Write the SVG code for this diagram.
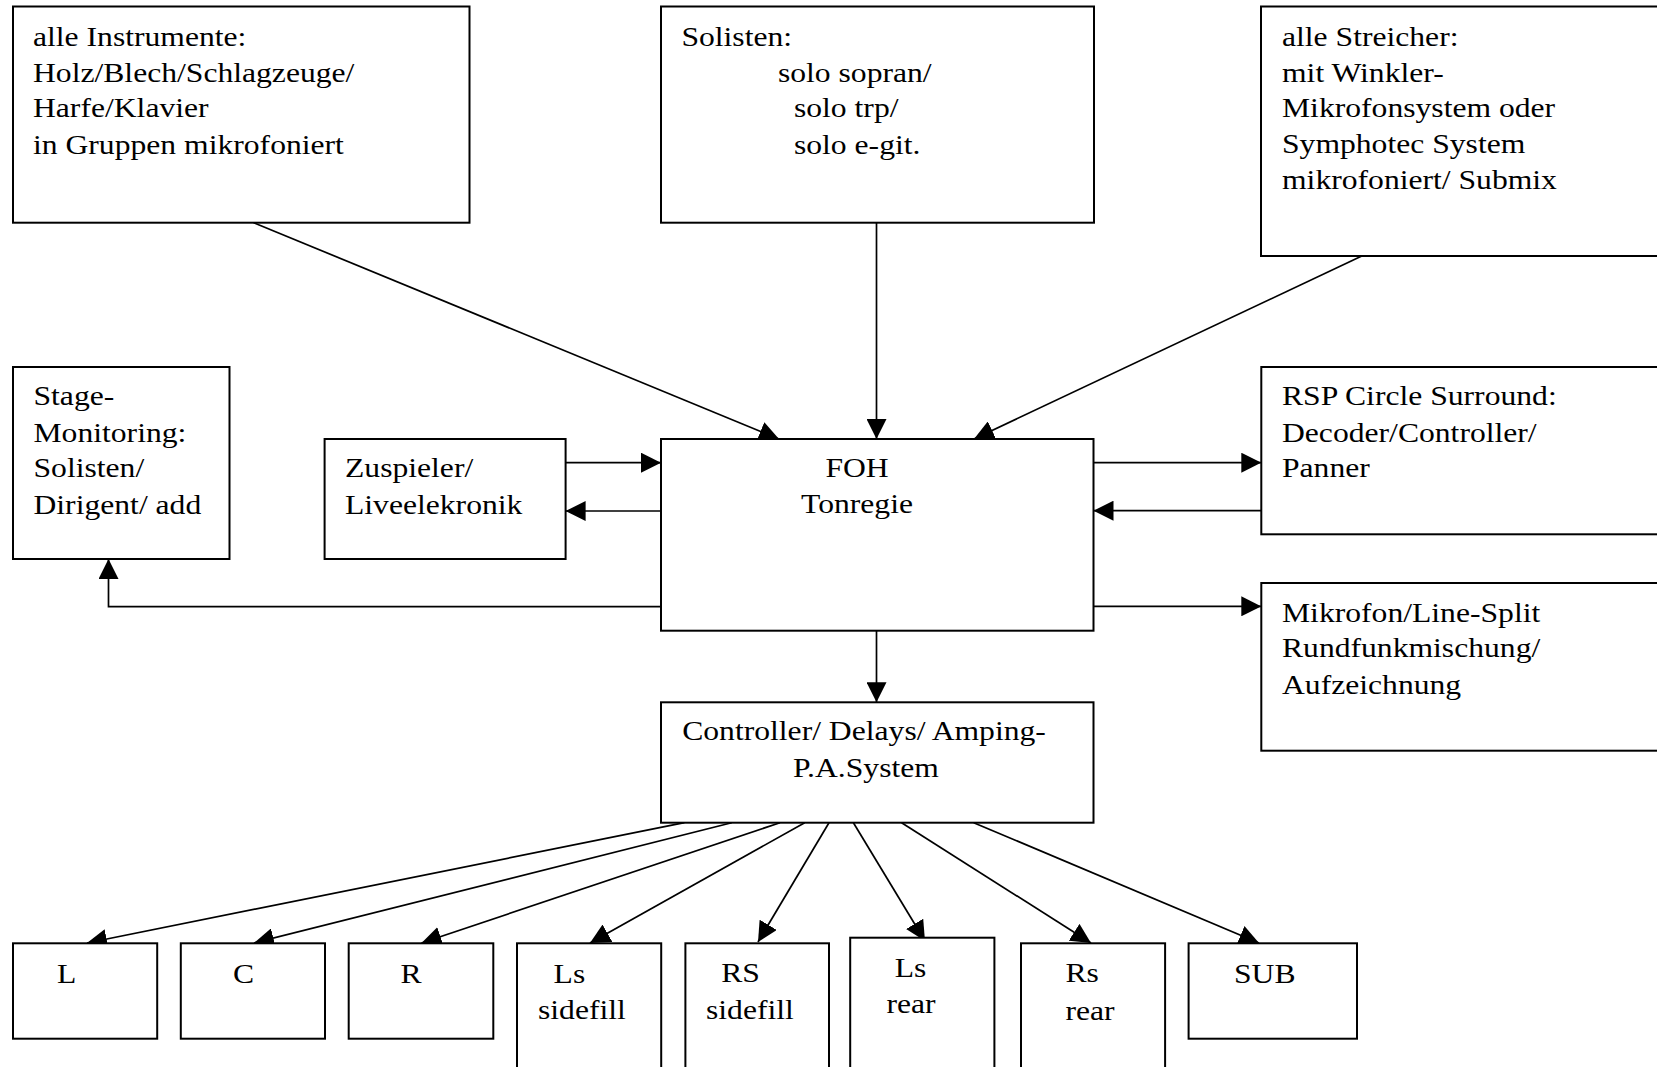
<svg xmlns="http://www.w3.org/2000/svg" width="1657" height="1067" viewBox="0 0 1657 1067">
<style>
.box{fill:#fff;stroke:#000;stroke-width:2}
.t{font-family:"Liberation Serif","Times New Roman",serif;font-size:28px;fill:#000}
.c{text-anchor:middle}
.ln{fill:none;stroke:#000;stroke-width:1.7;marker-end:url(#ah)}
</style>
<defs>
<marker id="ah" markerUnits="userSpaceOnUse" markerWidth="20" markerHeight="20" refX="20" refY="10" orient="auto" viewBox="0 0 20 20">
<path d="M0,0 L20,10 L0,20 Z" fill="#000"/>
</marker>
</defs>
<rect width="1657" height="1067" fill="#fff"/>

<g id="connectors">
<line class="ln" x1="253.6" y1="222.7" x2="779" y2="439"/>
<line class="ln" x1="876.5" y1="222.7" x2="876.5" y2="439"/>
<line class="ln" x1="1361.8" y1="256" x2="974" y2="439"/>
<line class="ln" x1="565.6" y1="462.7" x2="661" y2="462.7"/>
<line class="ln" x1="661" y1="511" x2="565.6" y2="511"/>
<polyline class="ln" points="661,606.7 108.5,606.7 108.5,559"/>
<line class="ln" x1="1093.5" y1="462.7" x2="1261.3" y2="462.7"/>
<line class="ln" x1="1261.3" y1="510.7" x2="1093.5" y2="510.7"/>
<line class="ln" x1="1093.5" y1="606.3" x2="1261.3" y2="606.3"/>
<line class="ln" x1="876.5" y1="630.7" x2="876.5" y2="702.3"/>
<line class="ln" x1="684.4" y1="822.7" x2="87" y2="943"/>
<line class="ln" x1="731.7" y1="822.7" x2="254" y2="943"/>
<line class="ln" x1="780" y1="822.7" x2="421.5" y2="943"/>
<line class="ln" x1="804.7" y1="822.7" x2="590" y2="943"/>
<line class="ln" x1="829" y1="822.7" x2="758" y2="942"/>
<line class="ln" x1="853.4" y1="822.7" x2="925" y2="941"/>
<line class="ln" x1="901.6" y1="822.7" x2="1091" y2="943"/>
<line class="ln" x1="973.7" y1="822.7" x2="1259" y2="943"/>
</g>

<g id="instrumente">
<rect class="box" x="13" y="6.5" width="456.5" height="216.2"/>
<text class="t" transform="translate(33,46) scale(1.13,1)"><tspan x="0" y="0">alle Instrumente:</tspan><tspan x="0" y="36">Holz/Blech/Schlagzeuge/</tspan><tspan x="0" y="71.5">Harfe/Klavier</tspan><tspan x="0" y="108">in Gruppen mikrofoniert</tspan></text>
</g>

<g id="solisten">
<rect class="box" x="661" y="6.5" width="433" height="216.2"/>
<text class="t" transform="translate(681.4,46) scale(1.13,1)"><tspan x="0" y="0">Solisten:</tspan><tspan x="85.4" y="36">solo sopran/</tspan><tspan x="99.6" y="71.5">solo trp/</tspan><tspan x="99.6" y="108">solo e-git.</tspan></text>
</g>

<g id="streicher">
<rect class="box" x="1261" y="6.5" width="420" height="249.5"/>
<text class="t" transform="translate(1282,46) scale(1.13,1)"><tspan x="0" y="0">alle Streicher:</tspan><tspan x="0" y="36">mit Winkler-</tspan><tspan x="0" y="71">Mikrofonsystem oder</tspan><tspan x="0" y="107">Symphotec System</tspan><tspan x="0" y="143">mikrofoniert/ Submix</tspan></text>
</g>

<g id="stage">
<rect class="box" x="13" y="367" width="216.5" height="192"/>
<text class="t" transform="translate(33.5,405) scale(1.13,1)"><tspan x="0" y="0">Stage-</tspan><tspan x="0" y="36.7">Monitoring:</tspan><tspan x="0" y="72.3">Solisten/</tspan><tspan x="0" y="109">Dirigent/ add</tspan></text>
</g>

<g id="zuspieler">
<rect class="box" x="324.6" y="439" width="241" height="120"/>
<text class="t" transform="translate(345,477.3) scale(1.13,1)"><tspan x="0" y="0">Zuspieler/</tspan><tspan x="0" y="36.7">Liveelekronik</tspan></text>
</g>

<g id="foh">
<rect class="box" x="661" y="439" width="432.5" height="191.7"/>
<text class="t c" transform="translate(857,476.7) scale(1.13,1)"><tspan x="0" y="0">FOH</tspan><tspan x="0" y="36.6">Tonregie</tspan></text>
</g>

<g id="rsp">
<rect class="box" x="1261.3" y="367" width="420" height="167.3"/>
<text class="t" transform="translate(1282,405) scale(1.13,1)"><tspan x="0" y="0">RSP Circle Surround:</tspan><tspan x="0" y="36.7">Decoder/Controller/</tspan><tspan x="0" y="72.3">Panner</tspan></text>
</g>

<g id="mikrofon">
<rect class="box" x="1261.3" y="583" width="420" height="167.7"/>
<text class="t" transform="translate(1282,621.7) scale(1.13,1)"><tspan x="0" y="0">Mikrofon/Line-Split</tspan><tspan x="0" y="35.6">Rundfunkmischung/</tspan><tspan x="0" y="72.3">Aufzeichnung</tspan></text>
</g>

<g id="controller">
<rect class="box" x="661" y="702.3" width="432.5" height="120.4"/>
<text class="t" transform="translate(682.2,740) scale(1.13,1)">Controller/ Delays/ Amping-</text>
<text class="t" transform="translate(793,777) scale(1.13,1)">P.A.System</text>
</g>

<g id="L">
<rect class="box" x="13" y="943.3" width="144.2" height="95.4"/>
<text class="t" transform="translate(57,983.3) scale(1.13,1)">L</text>
</g>
<g id="C">
<rect class="box" x="180.8" y="943.3" width="144.2" height="95.4"/>
<text class="t" transform="translate(233,983.3) scale(1.13,1)">C</text>
</g>
<g id="R">
<rect class="box" x="348.7" y="943.3" width="144.6" height="95.4"/>
<text class="t" transform="translate(400.4,983.3) scale(1.13,1)">R</text>
</g>
<g id="ls-sidefill">
<rect class="box" x="517" y="943.3" width="144.2" height="140"/>
<text class="t" transform="translate(553.6,983.3) scale(1.13,1)">Ls</text>
<text class="t" transform="translate(538,1019.3) scale(1.13,1)">sidefill</text>
</g>
<g id="rs-sidefill">
<rect class="box" x="685.4" y="943.3" width="143.6" height="140"/>
<text class="t" transform="translate(721.2,981.7) scale(1.13,1)">RS</text>
<text class="t" transform="translate(706,1019.3) scale(1.13,1)">sidefill</text>
</g>
<g id="ls-rear">
<rect class="box" x="850.2" y="937.7" width="144.2" height="140"/>
<text class="t" transform="translate(894.7,976.7) scale(1.13,1)">Ls</text>
<text class="t" transform="translate(886.5,1013.3) scale(1.13,1)">rear</text>
</g>
<g id="rs-rear">
<rect class="box" x="1021" y="943.3" width="144.1" height="140"/>
<text class="t" transform="translate(1065.5,981.7) scale(1.13,1)">Rs</text>
<text class="t" transform="translate(1065.5,1020) scale(1.13,1)">rear</text>
</g>
<g id="sub">
<rect class="box" x="1188.6" y="943.3" width="168.4" height="95.4"/>
<text class="t" transform="translate(1234,983.3) scale(1.13,1)">SUB</text>
</g>
</svg>
